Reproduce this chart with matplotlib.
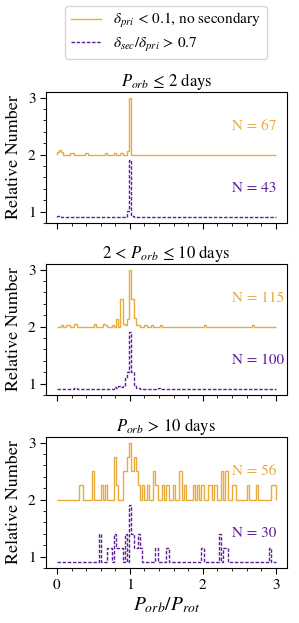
import numpy as np
import matplotlib
matplotlib.use('Agg')
import matplotlib.pyplot as plt
from matplotlib.ticker import MultipleLocator

plt.rcParams['font.family'] = 'STIXGeneral'
plt.rcParams['mathtext.fontset'] = 'stix'

ORANGE = '#E9AB3B'
PURPLE = '#5E1E96'

# ── data: bin centres (P_orb/P_rot) and counts per sample ─────────────────────
EDGES = np.linspace(0, 3, 101)

# P_orb <= 2 days
p1_pri_x = [0.015, 0.045, 0.075, 0.195, 0.225, 0.405, 0.675, 0.795, 0.885, 0.975, 1.005]
p1_pri_n = [2, 4, 2, 1, 1, 1, 1, 1, 1, 3, 50]
p1_sec_x = [0.015, 0.045, 0.975, 1.005, 1.035]
p1_sec_n = [1, 1, 4, 36, 1]

# 2 < P_orb <= 10 days
p2_pri_x = [0.075, 0.135, 0.165, 0.255, 0.525, 0.645, 0.675, 0.765, 0.825, 0.885,
            0.915, 0.945, 0.975, 1.005, 1.035, 1.065, 1.095, 1.125, 1.215, 1.305,
            1.425, 2.025, 2.685]
p2_pri_n = [1, 1, 1, 2, 2, 2, 1, 1, 5, 19, 2, 1, 5, 40, 19, 6, 1, 1, 1, 1, 1, 1, 1]
p2_sec_x = [0.255, 0.795, 0.825, 0.855, 0.885, 0.915, 0.945, 0.975, 1.005, 1.035,
            1.065, 1.095, 1.125, 1.395]
p2_sec_n = [1, 2, 1, 3, 2, 3, 9, 14, 45, 14, 3, 1, 1, 1]

# P_orb > 10 days
p3_pri_x = [0.315, 0.345, 0.495, 0.615, 0.675, 0.795, 0.825, 0.915, 0.945, 0.975,
            1.005, 1.035, 1.065, 1.095, 1.125, 1.185, 1.245, 1.335, 1.365, 1.455,
            1.515, 1.605, 1.695, 1.755, 1.875, 1.935, 1.995, 2.085, 2.115, 2.175,
            2.265, 2.325, 2.415, 2.445, 2.625, 2.745, 2.955, 2.985]
p3_pri_n = [1, 1, 2, 1, 1, 3, 1, 2, 2, 3, 4, 2, 3, 2, 1, 1, 1, 2, 1, 1,
            1, 1, 2, 1, 1, 1, 1, 1, 1, 1, 2, 2, 1, 1, 1, 1, 1, 1]
p3_sec_x = [0.585, 0.705, 0.735, 0.795, 0.825, 0.855, 0.885, 0.945, 1.005, 1.035,
            1.065, 1.095, 1.125, 1.155, 1.365, 1.515, 1.995, 2.235, 2.295, 2.325, 2.925]
p3_sec_n = [2, 1, 1, 2, 1, 1, 1, 2, 4, 2, 1, 1, 2, 1, 1, 1, 1, 2, 1, 1, 1]

titles = [r'$P_{orb}\,\leq\,2$ days',
          r'$2\,<\,P_{orb}\,\leq\,10$ days',
          r'$P_{orb}\,>\,10$ days']
panels = [(p1_pri_x, p1_pri_n, p1_sec_x, p1_sec_n),
          (p2_pri_x, p2_pri_n, p2_sec_x, p2_sec_n),
          (p3_pri_x, p3_pri_n, p3_sec_x, p3_sec_n)]

PRI_OFF = 2.0
SEC_OFF = 0.9


def rel_hist(x, n):
    vals = np.repeat(x, n)
    counts, _ = np.histogram(vals, bins=EDGES)
    return counts / counts.max(), len(vals)


# ── figure ────────────────────────────────────────────────────────────────────
fig = plt.figure(figsize=(2.99, 6.23), dpi=100)
bottoms = [0.6416, 0.3655, 0.0878]

for k, ((px, pn, sx, sn), title) in enumerate(zip(panels, titles)):
    ax = fig.add_axes([0.1538, bottoms[k], 0.805, 0.2115])
    rp, Np = rel_hist(px, pn)
    rs, Ns = rel_hist(sx, sn)
    ax.stairs(rp + PRI_OFF, EDGES, baseline=PRI_OFF, color=ORANGE, lw=1.0,
              label=r'$\delta_{pri}\,<\,0.1$, no secondary')
    ax.stairs(rs + SEC_OFF, EDGES, baseline=SEC_OFF, color=PURPLE, lw=1.0,
              linestyle=(0, (2.5, 1.2)), label=r'$\delta_{sec}/\delta_{pri}\,>\,0.7$')

    ax.text(2.4, 2.5, f'N = {Np}', color=ORANGE, fontsize=11, ha='left', va='center')
    ax.text(2.4, 1.4, f'N = {Ns}', color=PURPLE, fontsize=11, ha='left', va='center')

    ax.set_xlim(-0.15, 3.15)
    ax.set_ylim(0.795, 3.105)
    ax.set_xticks([0, 1, 2, 3])
    ax.set_yticks([1, 2, 3])
    ax.xaxis.set_minor_locator(MultipleLocator(0.2))
    ax.yaxis.set_minor_locator(MultipleLocator(0.2))
    ax.tick_params(which='major', length=4, labelsize=11)
    ax.tick_params(which='minor', length=2)
    ax.set_title(title, fontsize=12, pad=4)
    ax.set_ylabel('Relative Number', fontsize=13, labelpad=4)
    if k < 2:
        ax.tick_params(labelbottom=False)
    else:
        ax.set_xlabel(r'$P_{orb}/P_{rot}$', fontsize=14, labelpad=2)
    if k == 0:
        handles, labels = ax.get_legend_handles_labels()

fig.legend(handles, labels, loc='upper center', bbox_to_anchor=(0.555, 0.9904),
           borderaxespad=0, fontsize=11, handlelength=2.0,
           labelspacing=0.35, borderpad=0.35)

fig.savefig('out.png', dpi=100)
